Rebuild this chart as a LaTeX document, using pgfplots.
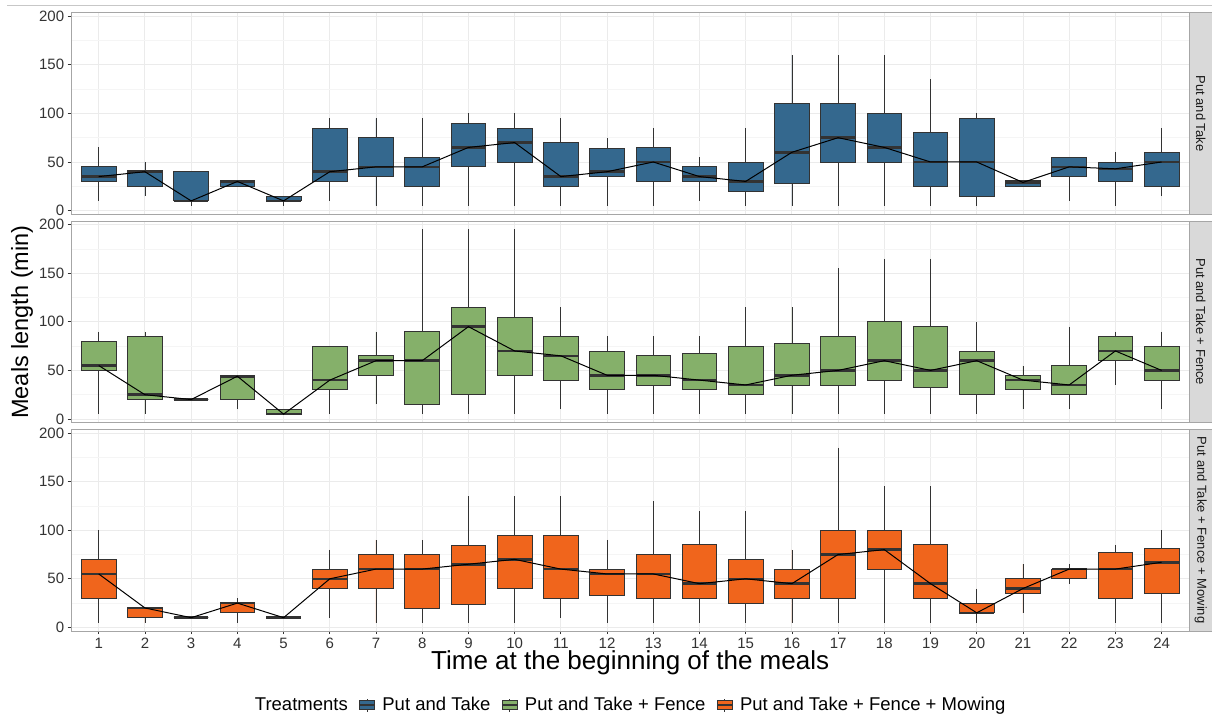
\documentclass[border=0pt]{standalone}
\usepackage{fontspec}
\setmainfont{Liberation Sans}
\usepackage{pgfplots}
\pgfplotsset{compat=1.18}
\usepgfplotslibrary{statistics}

\definecolor{ptblue}{HTML}{34688E}
\definecolor{ptgreen}{HTML}{85B06A}
\definecolor{ptorange}{HTML}{F0651C}
\definecolor{boxline}{HTML}{333333}
\definecolor{gridmaj}{HTML}{EBEBEB}
\definecolor{gridmin}{HTML}{F5F5F5}
\definecolor{bordercol}{HTML}{A6A6A6}
\definecolor{stripfill}{HTML}{D9D9D9}
\definecolor{striptext}{HTML}{1A1A1A}
\definecolor{ticklab}{HTML}{333333}

% #1 colour, #2 position, #3 lower whisker, #4 lower quartile, #5 median, #6 upper quartile, #7 upper whisker
\newcommand{\bx}[7]{\addplot[forget plot, fill=#1, draw=boxline, line width=0.8pt,
  boxplot/every median/.style={draw=boxline, line width=2.6pt},
  boxplot prepared={draw position=#2, lower whisker=#3, lower quartile=#4,
  median=#5, upper quartile=#6, upper whisker=#7}] coordinates {};}

\pgfplotsset{
  facet/.style={
    scale only axis, width=1118.3pt, height=201.4pt,
    xmin=0.4, xmax=24.6, ymin=-3.6, ymax=203.6,
    xtick={1,...,24}, ytick={0,50,...,200}, minor ytick={25,75,125,175},
    grid=both,
    major grid style={draw=gridmaj, line width=0.9pt},
    minor grid style={draw=gridmin, line width=0.5pt},
    axis line style={draw=bordercol, line width=0.8pt},
    tick align=outside, major tick length=3.3pt, minor tick length=0pt,
    tick style={draw=boxline, line width=0.8pt},
    ticklabel style={font=\fontsize{15}{15}\selectfont, text=ticklab},
    /pgf/number format/assume math mode=true,
    ytick pos=left, xtick pos=bottom,
    clip=false,
    boxplot/draw direction=y, boxplot/box extend=0.75, boxplot/whisker extend=0,
    boxplot/every whisker/.style={draw=boxline, line width=0.8pt},
  },
  inner/.style={xticklabels={}, xtick style={draw=none}},
  keyblue/.style={legend image code/.code={
    \path[draw=none, fill=none] (0pt,-7pt) rectangle (21pt,7pt);
    \draw[boxline, line width=0.7pt] (7.5pt,-6.5pt) -- (7.5pt,6.5pt);
    \draw[fill=ptblue, draw=boxline, line width=0.7pt] (0pt,-4.5pt) rectangle (15pt,4.5pt);
    \draw[boxline, line width=1.2pt] (0pt,0pt) -- (15pt,0pt);}},
  keygreen/.style={legend image code/.code={
    \path[draw=none, fill=none] (0pt,-7pt) rectangle (21pt,7pt);
    \draw[boxline, line width=0.7pt] (7.5pt,-6.5pt) -- (7.5pt,6.5pt);
    \draw[fill=ptgreen, draw=boxline, line width=0.7pt] (0pt,-4.5pt) rectangle (15pt,4.5pt);
    \draw[boxline, line width=1.2pt] (0pt,0pt) -- (15pt,0pt);}},
  keyorange/.style={legend image code/.code={
    \path[draw=none, fill=none] (0pt,-7pt) rectangle (21pt,7pt);
    \draw[boxline, line width=0.7pt] (7.5pt,-6.5pt) -- (7.5pt,6.5pt);
    \draw[fill=ptorange, draw=boxline, line width=0.7pt] (0pt,-4.5pt) rectangle (15pt,4.5pt);
    \draw[boxline, line width=1.2pt] (0pt,0pt) -- (15pt,0pt);}},
}
\newcommand{\strip}[1]{%
  \draw[fill=stripfill, draw=bordercol, line width=0.8pt] (rel axis cs:1,0) rectangle ([xshift=22.7pt]rel axis cs:1,1);
  \node[rotate=-90, font=\fontsize{13}{13}\selectfont, text=striptext] at ([xshift=11.35pt]rel axis cs:1,0.5) {#1};}

\begin{document}
\begin{tikzpicture}[x=1pt,y=1pt]
\useasboundingbox (0pt,0pt) rectangle (1212pt,716pt);
\draw[black!22, line width=1pt] (7pt,710.7pt) -- (1212pt,710.7pt);
\node[rotate=90, font=\fontsize{23.5}{23.5}\selectfont] at (22pt,394pt) {Meals length (min)};

% ---------- Put and Take ----------
\begin{axis}[facet, inner, at={(71pt,703.3pt)}, anchor=north west]
\bx{ptblue}{1}{10}{30}{35}{45}{65}
\bx{ptblue}{2}{15}{25}{40}{41}{50}
\bx{ptblue}{3}{5}{10}{10}{40}{40}
\bx{ptblue}{4}{25}{25}{30}{31}{31}
\bx{ptblue}{5}{5}{10}{10}{15}{15}
\bx{ptblue}{6}{10}{30}{40}{85}{95}
\bx{ptblue}{7}{5}{35}{45}{75}{95}
\bx{ptblue}{8}{5}{25}{45}{55}{95}
\bx{ptblue}{9}{5}{45}{65}{90}{100}
\bx{ptblue}{10}{5}{50}{70}{85}{100}
\bx{ptblue}{11}{5}{25}{35}{70}{95}
\bx{ptblue}{12}{5}{35}{40}{64}{75}
\bx{ptblue}{13}{5}{30}{50}{65}{85}
\bx{ptblue}{14}{10}{30}{35}{45}{55}
\bx{ptblue}{15}{5}{20}{30}{50}{85}
\bx{ptblue}{16}{5}{28}{60}{110}{160}
\bx{ptblue}{17}{5}{50}{75}{110}{160}
\bx{ptblue}{18}{5}{50}{65}{100}{160}
\bx{ptblue}{19}{5}{25}{50}{80}{135}
\bx{ptblue}{20}{5}{15}{50}{95}{100}
\bx{ptblue}{21}{25}{25}{29}{31}{31}
\bx{ptblue}{22}{10}{35}{45}{55}{55}
\bx{ptblue}{23}{5}{30}{43}{50}{60}
\bx{ptblue}{24}{15}{25}{50}{60}{85}
\addplot[forget plot, black, line width=1pt] coordinates {
(1,35) (2,40) (3,10) (4,30) (5,10) (6,40) (7,45) (8,45) (9,65) (10,70) (11,35) (12,40)
(13,50) (14,35) (15,30) (16,60) (17,75) (18,65) (19,50) (20,50) (21,29) (22,45) (23,43) (24,50)};
\strip{Put and Take}
\end{axis}

% ---------- Put and Take + Fence ----------
\begin{axis}[facet, inner, at={(71pt,494.9pt)}, anchor=north west]
\bx{ptgreen}{1}{5}{50}{55}{80}{90}
\bx{ptgreen}{2}{5}{20}{25}{85}{90}
\bx{ptgreen}{3}{20}{20}{20}{20}{20}
\bx{ptgreen}{4}{10}{20}{44}{45}{45}
\bx{ptgreen}{5}{5}{5}{5}{10}{10}
\bx{ptgreen}{6}{5}{30}{40}{75}{75}
\bx{ptgreen}{7}{15}{45}{60}{65}{90}
\bx{ptgreen}{8}{5}{15}{60}{90}{195}
\bx{ptgreen}{9}{5}{25}{95}{115}{195}
\bx{ptgreen}{10}{5}{45}{70}{105}{195}
\bx{ptgreen}{11}{10}{40}{65}{85}{115}
\bx{ptgreen}{12}{5}{30}{45}{70}{85}
\bx{ptgreen}{13}{5}{35}{45}{65}{85}
\bx{ptgreen}{14}{5}{30}{40}{68}{85}
\bx{ptgreen}{15}{5}{25}{35}{75}{115}
\bx{ptgreen}{16}{5}{35}{45}{78}{115}
\bx{ptgreen}{17}{5}{35}{50}{85}{155}
\bx{ptgreen}{18}{5}{40}{60}{100}{165}
\bx{ptgreen}{19}{5}{32}{50}{95}{165}
\bx{ptgreen}{20}{5}{25}{60}{70}{100}
\bx{ptgreen}{21}{10}{30}{40}{45}{55}
\bx{ptgreen}{22}{10}{25}{35}{55}{95}
\bx{ptgreen}{23}{35}{60}{70}{85}{90}
\bx{ptgreen}{24}{10}{40}{50}{75}{90}
\addplot[forget plot, black, line width=1pt] coordinates {
(1,55) (2,25) (3,20) (4,44) (5,5) (6,40) (7,60) (8,60) (9,95) (10,70) (11,65) (12,45)
(13,45) (14,40) (15,35) (16,45) (17,50) (18,60) (19,50) (20,60) (21,40) (22,35) (23,70) (24,50)};
\strip{Put and Take + Fence}
\end{axis}

% ---------- Put and Take + Fence + Mowing ----------
\begin{axis}[facet, at={(71pt,286.5pt)}, anchor=north west,
  xlabel={Time at the beginning of the meals},
  xlabel style={at={(axis description cs:0.5,-0.16)}, anchor=center, font=\fontsize{26}{26}\selectfont},
  legend columns=4,
  legend style={draw=none, fill=none, at={(axis description cs:0.5,-0.368)}, anchor=center,
    font=\fontsize{18.5}{18.5}\selectfont,
    /tikz/every even column/.append style={column sep=9pt}},
]
\addlegendimage{empty legend}
\addlegendentry{Treatments}
\addlegendimage{keyblue}
\addlegendentry{Put and Take}
\addlegendimage{keygreen}
\addlegendentry{Put and Take + Fence}
\addlegendimage{keyorange}
\addlegendentry{Put and Take + Fence + Mowing}
\bx{ptorange}{1}{5}{30}{55}{70}{100}
\bx{ptorange}{2}{5}{10}{20}{21}{21}
\bx{ptorange}{3}{10}{10}{10}{10}{10}
\bx{ptorange}{4}{5}{15}{25}{25.5}{30}
\bx{ptorange}{5}{10}{10}{10}{10}{10}
\bx{ptorange}{6}{10}{40}{50}{60}{80}
\bx{ptorange}{7}{5}{40}{60}{75}{90}
\bx{ptorange}{8}{5}{20}{60}{75}{90}
\bx{ptorange}{9}{5}{24}{65}{84}{135}
\bx{ptorange}{10}{5}{40}{70}{95}{135}
\bx{ptorange}{11}{10}{30}{60}{95}{135}
\bx{ptorange}{12}{5}{33}{55}{60}{90}
\bx{ptorange}{13}{5}{30}{55}{75}{130}
\bx{ptorange}{14}{5}{30}{45}{85}{120}
\bx{ptorange}{15}{5}{25}{50}{70}{120}
\bx{ptorange}{16}{5}{30}{45}{60}{80}
\bx{ptorange}{17}{5}{30}{75}{100}{185}
\bx{ptorange}{18}{5}{60}{80}{100}{145}
\bx{ptorange}{19}{5}{30}{45}{85}{145}
\bx{ptorange}{20}{5}{15}{15}{25}{40}
\bx{ptorange}{21}{15}{35}{40}{50}{65}
\bx{ptorange}{22}{45}{50}{60}{60}{65}
\bx{ptorange}{23}{5}{30}{60}{77}{85}
\bx{ptorange}{24}{5}{35}{67}{81}{100}
\addplot[forget plot, black, line width=1pt] coordinates {
(1,55) (2,20) (3,10) (4,25) (5,10) (6,50) (7,60) (8,60) (9,65) (10,70) (11,60) (12,55)
(13,55) (14,45) (15,50) (16,45) (17,75) (18,80) (19,45) (20,15) (21,40) (22,60) (23,60) (24,67)};
\strip{Put and Take + Fence + Mowing}
\end{axis}
\end{tikzpicture}
\end{document}
